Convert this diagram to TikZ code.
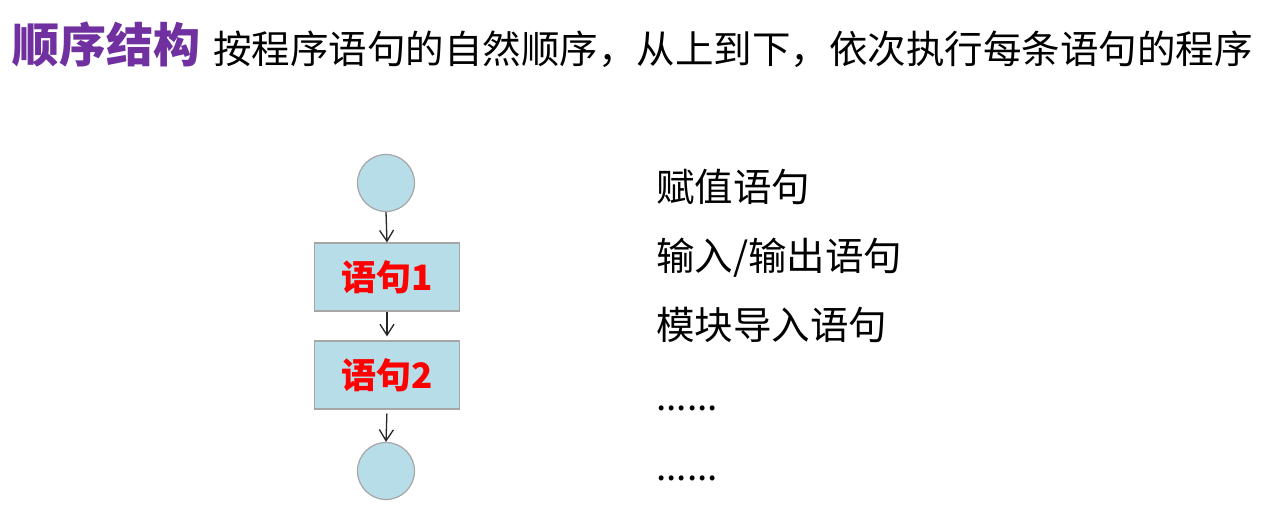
\documentclass[tikz,border=0pt]{standalone}
\usepackage{fontspec}
\setmainfont{Noto Sans CJK SC}
\newfontfamily\cjk{Noto Sans CJK SC}
\usetikzlibrary{arrows.meta}
\definecolor{titlepurple}{HTML}{7030A0}
\definecolor{boxfill}{HTML}{B7DDE8}
\definecolor{boxline}{HTML}{A6A6A6}
\tikzset{
  flowbox/.style={draw=boxline, line width=1.2pt, fill=boxfill, minimum width=145pt, minimum height=68pt, inner sep=0pt, font=\cjk\fontsize{35}{35}\selectfont\bfseries, text=red},
  endpt/.style={circle, draw=boxline, line width=1.2pt, fill=boxfill, minimum size=57pt, inner sep=0pt},
  flowarrow/.style={line width=1.3pt, draw=black!85, -{Straight Barb[length=11pt,width=14pt,line width=1.3pt]}},
  listtext/.style={anchor=west, inner sep=0pt, font=\cjk\fontsize{38.5}{38.5}\selectfont},
}
\begin{document}
\begin{tikzpicture}[x=1pt,y=-1pt]
\useasboundingbox[fill=white] (0,0) rectangle (1263,511);
% title
\node[anchor=west, inner sep=0pt, text=titlepurple, font=\cjk\fontsize{47}{47}\selectfont\bfseries] (title) at (12,45) {顺序结构};
\node[listtext] (sub) at (213,49) {按程序语句的自然顺序，从上到下，依次执行每条语句的程序};
% flowchart
\node[endpt] (start) at (386,183) {};
\node[flowbox] (s1) at (387,277) {语句1};
\node[flowbox] (s2) at (387,375) {语句2};
\node[endpt] (stop) at (386,471) {};
\draw[flowarrow] (start.south) -- (s1.north);
\draw[flowarrow, shorten >=4pt] (s1.south) -- (s2.north);
\draw[flowarrow, shorten <=4pt] (s2.south) -- (stop.north);
% list
\node[listtext] (l1) at (656,187) {赋值语句};
\node[listtext] (l2) at (656,258) {输入/输出语句};
\node[listtext] (l3) at (656,325) {模块导入语句};
\node[anchor=base west, inner sep=0pt, font=\cjk\fontsize{37}{37}\selectfont] (l4) at (656,410) {......};
\node[anchor=base west, inner sep=0pt, font=\cjk\fontsize{37}{37}\selectfont] (l5) at (656,480) {......};
\end{tikzpicture}
\end{document}
